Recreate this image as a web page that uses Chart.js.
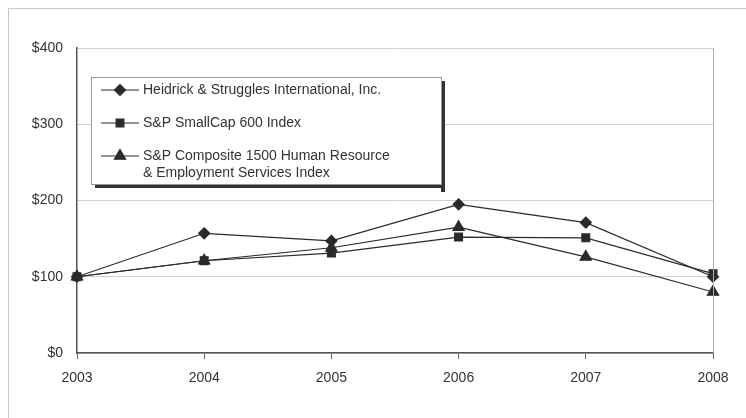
<!DOCTYPE html>
<html><head><meta charset="utf-8">
<script src="https://cdn.jsdelivr.net/npm/chart.js@4/dist/chart.umd.min.js"></script>
<style>html,body{margin:0;padding:0;background:#fff}#w{width:746px;height:418px}</style>
</head><body><div id="w"><canvas id="c" width="746" height="418"></canvas></div>
<script>
const years = ["2003","2004","2005","2006","2007","2008"];
const heidrick = [100, 157, 147, 195, 171, 100];
const smallCap = [100, 121, 131, 152, 151, 104];
const hrIndex = [100, 121, 138, 165, 126, 80];
const seriesLabels = [
  ["Heidrick & Struggles International, Inc."],
  ["S&P SmallCap 600 Index"],
  ["S&P Composite 1500 Human Resource", "& Employment Services Index"]
];
const yTicks = [0, 100, 200, 300, 400];

const FONT = "'Liberation Sans', Arial, sans-serif";
const ink = "#2a2a2a";

const framePlugin = {
  id: 'frame',
  beforeDraw(chart) {
    const ctx = chart.ctx;
    ctx.save();
    ctx.strokeStyle = '#c8c8c8';
    ctx.lineWidth = 1;
    ctx.beginPath();
    ctx.moveTo(8.5, 418); ctx.lineTo(8.5, 8.5); ctx.lineTo(746, 8.5);
    ctx.stroke();
    ctx.restore();
  },
  afterDatasetsDraw(chart) {
    const ctx = chart.ctx, a = chart.chartArea;
    ctx.save();
    ctx.strokeStyle = '#b0b0b0';
    ctx.lineWidth = 1;
    ctx.beginPath();
    ctx.moveTo(Math.round(a.right) + 0.5, a.top); ctx.lineTo(Math.round(a.right) + 0.5, a.bottom);
    ctx.stroke();
    const bx = 91, by = 77, bw = 350, bh = 107;
    ctx.fillStyle = '#333';
    ctx.fillRect(bx + 4, by + bh, bw, 4);
    ctx.fillRect(bx + bw, by + 4, 4, bh + 4);
    ctx.fillStyle = '#fff';
    ctx.fillRect(bx, by, bw, bh);
    ctx.strokeStyle = '#999';
    ctx.strokeRect(bx + 0.5, by + 0.5, bw, bh);
    const rows = [90, 123, 156];
    chart.data.datasets.forEach((ds, i) => {
      const y = rows[i];
      ctx.strokeStyle = ink; ctx.fillStyle = ink; ctx.lineWidth = 1.2;
      ctx.beginPath(); ctx.moveTo(101, y); ctx.lineTo(139, y); ctx.stroke();
      Chart.helpers.drawPoint(ctx, {pointStyle: ds.pointStyle, radius: ds.pointRadius, rotation: 0, borderWidth: 1}, 120, y);
      ctx.fillStyle = '#333';
      ctx.font = '14px ' + FONT;
      ctx.textBaseline = 'middle';
      ctx.textAlign = 'left';
      seriesLabels[i].forEach((ln, k) => ctx.fillText(ln, 143, y + k * 17));
    });
    ctx.restore();
  }
};

const mk = (data, i, style, r) => ({
  label: seriesLabels[i].join(' '),
  data,
  borderColor: ink,
  backgroundColor: ink,
  pointBackgroundColor: ink,
  pointBorderColor: ink,
  borderWidth: 1.2,
  pointStyle: style,
  pointRadius: r,
  pointHoverRadius: r,
  tension: 0
});

new Chart(document.getElementById('c'), {
  type: 'line',
  data: {
    labels: years,
    datasets: [
      mk(heidrick, 0, 'rectRot', 5.5),
      mk(smallCap, 1, 'rect', 5.5),
      mk(hrIndex, 2, 'triangle', 6.5)
    ]
  },
  options: {
    responsive: false,
    animation: false,
    events: [],
    layout: { padding: { left: 0, right: 33, top: 48, bottom: 0 } },
    plugins: { legend: { display: false }, tooltip: { enabled: false } },
    scales: {
      x: {
        offset: false,
        afterFit(s) { s.height = 65; },
        grid: { drawOnChartArea: false, drawTicks: true, tickLength: 6, color: '#666' },
        border: { color: '#555', width: 1.5 },
        ticks: { color: '#333', font: { family: FONT, size: 14 }, padding: 11, maxRotation: 0 }
      },
      y: {
        min: 0, max: 400,
        afterFit(s) { s.width = 77; },
        afterBuildTicks(s) { s.ticks = yTicks.map(v => ({ value: v })); },
        grid: { color: '#cfcfcf', drawTicks: false, lineWidth: 1 },
        border: { color: '#555', width: 1.5 },
        ticks: { color: '#333', font: { family: FONT, size: 14 }, padding: 14, callback: v => '$' + v }
      }
    }
  },
  plugins: [framePlugin]
});
</script></body></html>
